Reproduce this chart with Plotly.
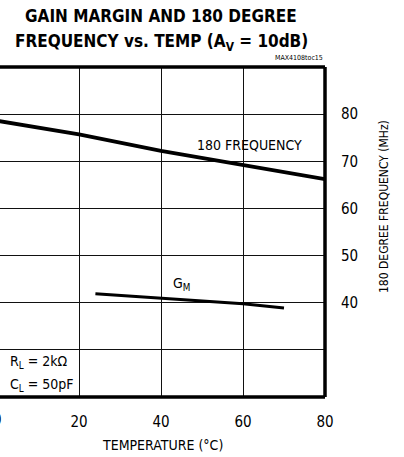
import plotly.graph_objects as go

# ---- data ----
freq_temp = [0, 20, 40, 60, 80]            # temperature (°C)
freq_mhz = [78.6, 75.7, 72.2, 69.2, 66.2]  # 180 degree frequency (MHz)

gm_temp = [24, 60, 70]                     # temperature (°C)
gm_plot = [41.9, 39.8, 38.9]               # gain-margin trace, drawn on the plot's vertical scale

x_ticks = [0, 20, 40, 60, 80]
x_ticktext = ["0", "20", "40", "60", "80"]
y_grid = [30, 40, 50, 60, 70, 80]
y_ticktext = ["", "40", "50", "60", "70", "80"]

FONT = "DejaVu Sans Condensed, Liberation Sans, Arial, sans-serif"
W, H = 404, 457
L, R, T, B = 0, 79, 67, 60

fig = go.Figure()
fig.add_trace(go.Scatter(x=freq_temp, y=freq_mhz, mode="lines",
                         line=dict(color="black", width=3.8), showlegend=False,
                         hoverinfo="skip"))
fig.add_trace(go.Scatter(x=gm_temp, y=gm_plot, mode="lines",
                         line=dict(color="black", width=3), showlegend=False,
                         hoverinfo="skip"))

fig.update_layout(
    width=W, height=H,
    margin=dict(l=L, r=R, t=T, b=B, autoexpand=False),
    paper_bgcolor="white", plot_bgcolor="white",
    font=dict(family=FONT, color="black", size=14),
    xaxis=dict(range=[0.73, 80], tickvals=x_ticks, ticktext=x_ticktext,
               showgrid=True, gridcolor="#111", gridwidth=1, automargin=False,
               zeroline=False, showline=False, ticks="",
               ticklabelstandoff=14, tickfont=dict(size=15, family=FONT)),
    yaxis=dict(range=[20, 90], side="right", tickvals=y_grid, ticktext=y_ticktext,
               showgrid=True, gridcolor="#111", gridwidth=1, automargin=False,
               zeroline=False, showline=False, ticks="",
               ticklabelstandoff=15, tickfont=dict(size=15, family=FONT)),
)

# plot frame (top, right, bottom)
for x0, y0, x1, y1 in [(0, 1, 1, 1), (1, 0, 1, 1), (0, 0, 1, 0)]:
    fig.add_shape(type="line", xref="paper", yref="paper", x0=x0, y0=y0, x1=x1, y1=y1,
                  line=dict(color="black", width=3.5))

pw = W - L - R
ph = H - T - B
def px(x):
    return (x - L) / pw
def py(y):
    return (H - B - y) / ph

ann = []
ann.append(dict(text="<b>GAIN MARGIN AND 180 DEGREE</b>", x=px(161), y=py(16),
                font=dict(size=17, family=FONT)))
ann.append(dict(text="<b>FREQUENCY vs. TEMP (A<sub>V</sub> = 10dB)</b>", x=px(161), y=py(43),
                font=dict(size=17, family=FONT)))
ann.append(dict(text="MAX4108toc15", x=px(325), y=py(58), xanchor="right",
                font=dict(size=7, family=FONT)))
ann.append(dict(text="180 FREQUENCY", x=px(249), y=py(145),
                font=dict(size=14, family=FONT)))
ann.append(dict(text="G<sub>M</sub>", x=px(181), y=py(284),
                font=dict(size=14, family=FONT)))
ann.append(dict(text="R<sub>L</sub> = 2kΩ", x=px(8), y=py(362), xanchor="left",
                font=dict(size=14, family=FONT)))
ann.append(dict(text="C<sub>L</sub> = 50pF", x=px(8), y=py(385), xanchor="left",
                font=dict(size=14, family=FONT)))
ann.append(dict(text="TEMPERATURE (°C)", x=px(162), y=py(445),
                font=dict(size=14, family=FONT)))
ann.append(dict(text="180 DEGREE FREQUENCY (MHz)", x=px(384), y=py(207), textangle=-90,
                font=dict(size=12, family=FONT)))
ann.append(dict(text="0", x=px(-3), y=py(420), font=dict(size=15, family=FONT)))

for a in ann:
    a.update(xref="paper", yref="paper", showarrow=False)
    a.setdefault("xanchor", "center")
    a.setdefault("yanchor", "middle")
fig.update_layout(annotations=ann)

fig.write_html("out.html", config={"displayModeBar": False, "staticPlot": True},
               post_script="document.body.style.margin='0';document.body.style.overflow='hidden';")
